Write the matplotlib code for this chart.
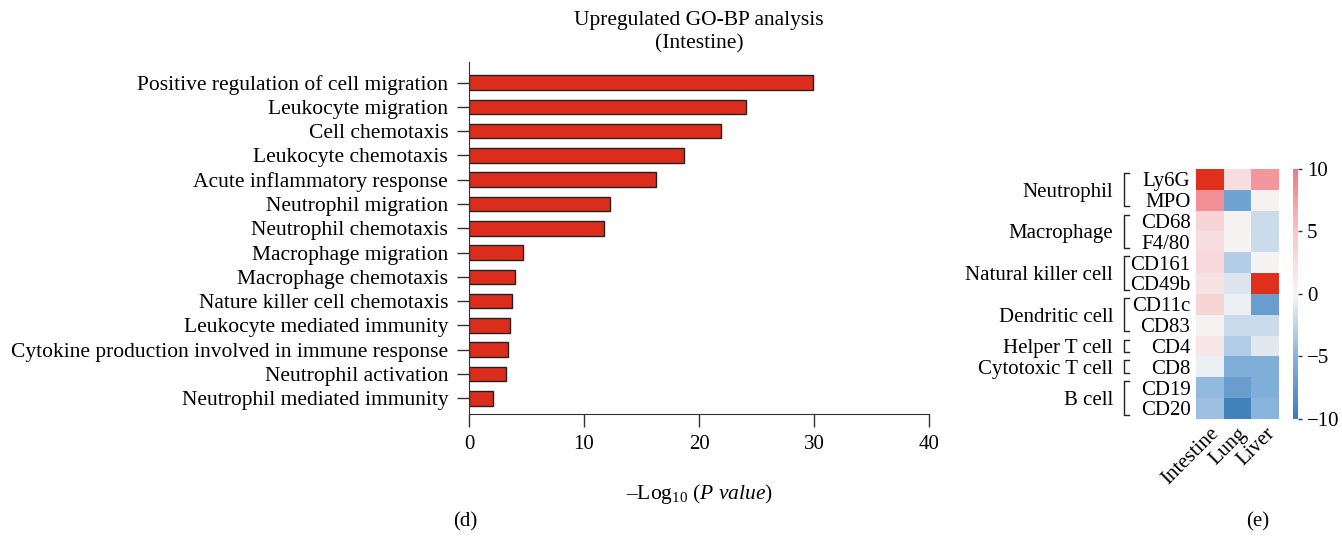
import matplotlib
matplotlib.use("Agg")
import matplotlib.pyplot as plt
from matplotlib import transforms
from matplotlib.colors import LinearSegmentedColormap
import numpy as np

plt.rcParams['font.family'] = ['Liberation Serif', 'DejaVu Serif']
plt.rcParams['mathtext.fontset'] = 'custom'
plt.rcParams['mathtext.rm'] = 'Liberation Serif'
plt.rcParams['mathtext.it'] = 'Liberation Serif:italic'

# %%
# dados (d) - GO-BP
termos = [
    "Positive regulation of cell migration",
    "Leukocyte migration",
    "Cell chemotaxis",
    "Leukocyte chemotaxis",
    "Acute inflammatory response",
    "Neutrophil migration",
    "Neutrophil chemotaxis",
    "Macrophage migration",
    "Macrophage chemotaxis",
    "Nature killer cell chemotaxis",
    "Leukocyte mediated immunity",
    "Cytokine production involved in immune response",
    "Neutrophil activation",
    "Neutrophil mediated immunity",
]
log_p = [29.9, 24.1, 21.9, 18.7, 16.3, 12.3, 11.7, 4.7, 4.0, 3.7, 3.6, 3.4, 3.2, 2.1]

# dados (e) - heatmap
tecidos = ["Intestine", "Lung", "Liver"]
marcadores = ["Ly6G", "MPO", "CD68", "F4/80", "CD161", "CD49b",
              "CD11c", "CD83", "CD4", "CD8", "CD19", "CD20"]
grupos = ["Neutrophil", "Macrophage", "Natural killer cell", "Dendritic cell",
          "Helper T cell", "Cytotoxic T cell", "B cell"]
grupo_n = [2, 2, 2, 2, 1, 1, 2]
intestine = [12, 8.5, 3.5, 2.5, 3.0, 2.0, 3.5, 0.3, 1.5, -0.5, -4.5, -4.0]
lung = [2.5, -6.5, 0.3, 0.2, -3.0, -1.2, -0.5, -2.0, -3.0, -5.5, -7.0, -9.5]
liver = [8.0, 0.3, -2.0, -2.0, 0.2, 12, -7.0, -2.0, -1.0, -5.5, -5.5, -5.0]

# %%
fig = plt.figure(figsize=(13.42, 5.54), dpi=100)

ax = fig.add_axes([0.3495, 0.2522, 0.3428, 0.6360])
y = np.arange(len(termos))
ax.barh(y, log_p, height=0.6, color='#DC2C1C', edgecolor='#222222', linewidth=1)
ax.set_yticks(y)
ax.set_yticklabels(termos, fontsize=15.5)
ax.set_ylim(len(termos) - 1 + 0.66, -0.85)
ax.set_xlim(0, 40)
ax.set_xticks([0, 10, 20, 30, 40])
ax.tick_params(axis='x', labelsize=15, length=9, width=1, pad=6, color='#333333')
ax.tick_params(axis='y', length=9, width=1, pad=6, color='#333333')
ax.spines['top'].set_visible(False)
ax.spines['right'].set_visible(False)
for s in ['left', 'bottom']:
    ax.spines[s].set_color('#333333')
ax.set_xlabel(r'–Log$_{10}$ ($\mathit{P\ value}$)', fontsize=15.5, labelpad=20)
ax.set_title("Upregulated GO-BP analysis\n(Intestine)", fontsize=15.5, pad=10,
             linespacing=1.3)

fig.text(0.347, 0.05, "(d)", fontsize=15, ha='center')
fig.text(0.937, 0.05, "(e)", fontsize=15, ha='center')

# %%
cmap = LinearSegmentedColormap.from_list(
    'rb', [(0, '#3B7DB8'), (0.25, '#88B4DE'), (0.5, '#F7F5F5'),
           (0.75, '#F8C6CA'), (1, '#F27880')])
cmap.set_over('#E0301C')

dados = np.array([intestine, lung, liver]).T
axh = fig.add_axes([0.8912, 0.2442, 0.0618, 0.4507])
im = axh.imshow(dados, cmap=cmap, vmin=-10, vmax=10, aspect='auto')
axh.set_xticks(range(len(tecidos)))
axh.set_xticklabels(tecidos, rotation=45, ha='right', rotation_mode='anchor',
                    fontsize=15)
axh.set_yticks(range(len(marcadores)))
axh.set_yticklabels(marcadores, fontsize=15)
axh.tick_params(length=0, pad=4)
for s in axh.spines.values():
    s.set_visible(False)

cax = fig.add_axes([0.9635, 0.2442, 0.0037, 0.4507])
cb = fig.colorbar(im, cax=cax, ticks=[-10, -5, 0, 5, 10])
cb.outline.set_visible(False)
cb.ax.tick_params(labelsize=15, length=3, width=1, color='#333333')
cb.ax.set_yticklabels(['−10', '−5', '0', '5', '10'])

# colchetes e grupos (x em coordenadas da figura, y em linhas do heatmap)
trans = transforms.blended_transform_factory(fig.transFigure, axh.transData)
xb, xa, xt = 0.8376, 0.8410, 0.8294
inicio = 0
for g, n in zip(grupos, grupo_n):
    topo = inicio - 0.5 + 0.2
    base = inicio + n - 0.5 - 0.2
    axh.plot([xa, xb, xb, xa], [topo, topo, base, base], color='#222222', lw=1,
             clip_on=False, transform=trans)
    axh.text(xt, inicio + (n - 1) / 2, g, fontsize=15, ha='right',
             va='center_baseline', transform=trans)
    inicio += n

fig.savefig("out.png", dpi=100)
